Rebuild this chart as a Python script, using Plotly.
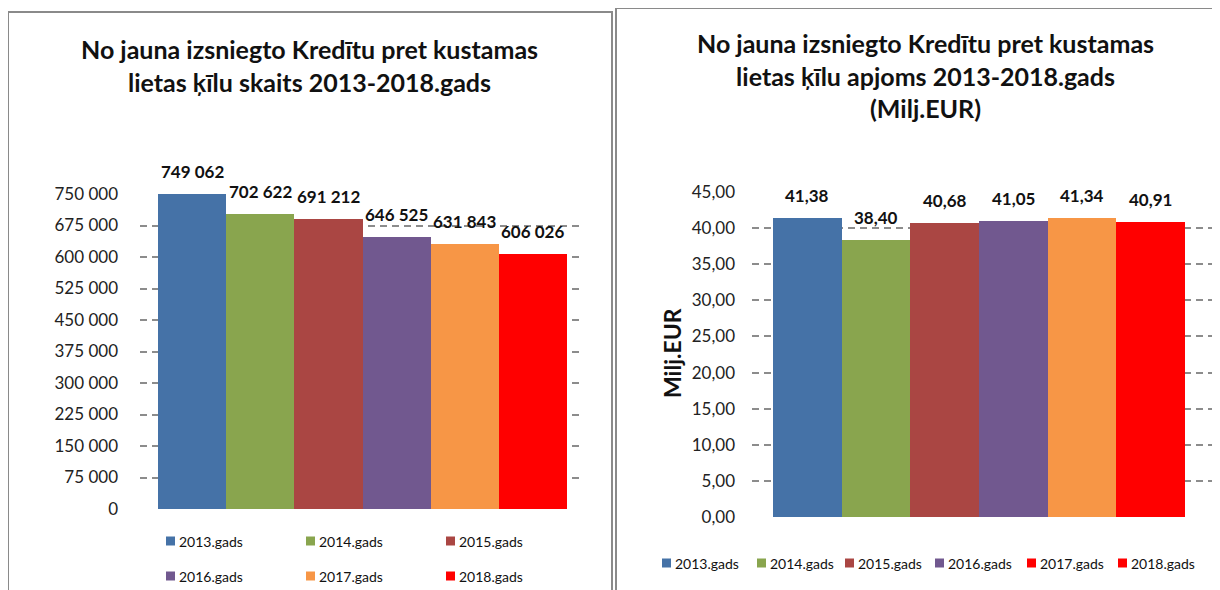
import plotly.graph_objects as go

# ── data ──────────────────────────────────────────────────────────────────────
YEARS = ["2013.gads", "2014.gads", "2015.gads", "2016.gads", "2017.gads", "2018.gads"]
COUNTS = [749062, 702622, 691212, 646525, 631843, 606026]
AMOUNTS = [41.38, 38.40, 40.68, 41.05, 41.34, 40.91]
COUNT_TICKS = [0, 75000, 150000, 225000, 300000, 375000, 450000, 525000, 600000, 675000, 750000]
AMOUNT_TICKS = [0, 5, 10, 15, 20, 25, 30, 35, 40, 45]

BAR_COLORS = ["#4572A7", "#89A54E", "#AA4643", "#71588F", "#F79646", "#FF0000"]
# the right chart's legend shows 2017 in red, as in the original
RIGHT_LEGEND_COLORS = ["#4572A7", "#89A54E", "#AA4643", "#71588F", "#FF0000", "#FF0000"]

TITLE_LEFT = "No jauna izsniegto Kredītu pret kustamas<br>lietas ķīlu skaits 2013-2018.gads"
TITLE_RIGHT = "No jauna izsniegto Kredītu pret kustamas<br>lietas ķīlu apjoms 2013-2018.gads<br>(Milj.EUR)"

# page body keeps its 8px margin; the figure starts there and runs to the window edge
OFF = 8
W, H = 1220 - OFF, 590 - OFF
FONT = "Lato, 'Open Sans', Arial, sans-serif"
GRID = "#8C8C8C"
TXT = "#111111"


def px(x):
    return (x - OFF) / W


def py(y):
    return 1 - (y - OFF) / H


fig = go.Figure()

fig.add_trace(go.Bar(
    x=YEARS, y=COUNTS, width=1, marker=dict(color=BAR_COLORS, line_width=0),
    xaxis="x", yaxis="y", showlegend=False, hoverinfo="x+y",
))
fig.add_trace(go.Bar(
    x=YEARS, y=AMOUNTS, width=1, marker=dict(color=BAR_COLORS, line_width=0),
    xaxis="x2", yaxis="y2", showlegend=False, hoverinfo="x+y",
))

axis_common = dict(
    showgrid=True, gridcolor=GRID, griddash="7px,5px", gridwidth=2,
    zeroline=False, showline=False, ticks="", automargin=False,
    tickfont=dict(size=17, color="#222222"),
)
xaxis_common = dict(showticklabels=False, showgrid=False, zeroline=False, automargin=False)

fig.update_layout(
    width=W, height=H,
    margin=dict(l=0, r=0, t=0, b=0, autoexpand=False),
    paper_bgcolor="white", plot_bgcolor="white",
    font=dict(family=FONT, color=TXT),
    separators=", ",
    bargap=0,
    xaxis=dict(domain=[px(140), px(582)], range=[-0.764, 5.72], anchor="y", **xaxis_common),
    yaxis=dict(domain=[py(509), py(194)], range=[0, 750000], tickvals=COUNT_TICKS,
               tickformat=",d", anchor="x", ticklabelstandoff=21, **axis_common),
    xaxis2=dict(domain=[px(752), px(1212)], range=[-0.806, 5.894], anchor="y2", **xaxis_common),
    yaxis2=dict(domain=[py(517), py(192)], range=[0, 45], tickvals=AMOUNT_TICKS,
                tickformat=".2f", anchor="x2", ticklabelstandoff=16, **axis_common),
)

# data labels
for yr, v in zip(YEARS, COUNTS):
    fig.add_annotation(
        x=yr, y=v, xref="x", yref="y", yanchor="bottom", yshift=10,
        text=f"<b>{v:,}</b>".replace(",", " "), showarrow=False,
        font=dict(size=17, color=TXT),
    )
for yr, v in zip(YEARS, AMOUNTS):
    fig.add_annotation(
        x=yr, y=v, xref="x2", yref="y2", yanchor="bottom", yshift=10,
        text=f"<b>{v:.2f}</b>".replace(".", ","), showarrow=False,
        font=dict(size=17, color=TXT),
    )

# titles
fig.add_annotation(
    x=px(309), y=py(32), xref="paper", yref="paper", xanchor="center", yanchor="top",
    text=f"<b>{TITLE_LEFT}</b>", showarrow=False,
    font=dict(size=25, color=TXT),
)
fig.add_annotation(
    x=px(925), y=py(26), xref="paper", yref="paper", xanchor="center", yanchor="top",
    text=f"<b>{TITLE_RIGHT}</b>", showarrow=False,
    font=dict(size=25, color=TXT),
)

# y-axis title of the right chart
fig.add_annotation(
    x=px(672), y=py(353), xref="paper", yref="paper", textangle=-90,
    text="<b>Milj.EUR</b>", showarrow=False, font=dict(size=23, color=TXT),
)

# panel borders
fig.add_shape(type="rect", xref="paper", yref="paper",
              x0=px(8), y0=py(12), x1=px(612), y1=py(600),
              line=dict(color="#8A8A8A", width=2), fillcolor="rgba(0,0,0,0)")
fig.add_shape(type="rect", xref="paper", yref="paper",
              x0=px(616), y0=py(8), x1=px(1230), y1=py(600),
              line=dict(color="#8A8A8A", width=2), fillcolor="rgba(0,0,0,0)")


# legends, drawn by hand so the wrap and swatches match the original
def legend_item(x, y, color, label):
    fig.add_shape(type="rect", xref="paper", yref="paper",
                  x0=px(x), x1=px(x + 9), y0=py(y + 4.5), y1=py(y - 4.5),
                  fillcolor=color, line_width=0)
    fig.add_annotation(x=px(x + 11), y=py(y), xref="paper", yref="paper",
                       xanchor="left", yanchor="middle", text=label, showarrow=False,
                       font=dict(size=14, color=TXT))


left_cols = [166, 306, 446]
left_rows = [541, 576]
for i, (lab, col) in enumerate(zip(YEARS, BAR_COLORS)):
    legend_item(left_cols[i % 3], left_rows[i // 3], col, lab)

right_cols = [662, 757, 845, 935, 1027, 1118]
for x, lab, col in zip(right_cols, YEARS, RIGHT_LEGEND_COLORS):
    legend_item(x, 563, col, lab)

fig.write_html("out.html")
